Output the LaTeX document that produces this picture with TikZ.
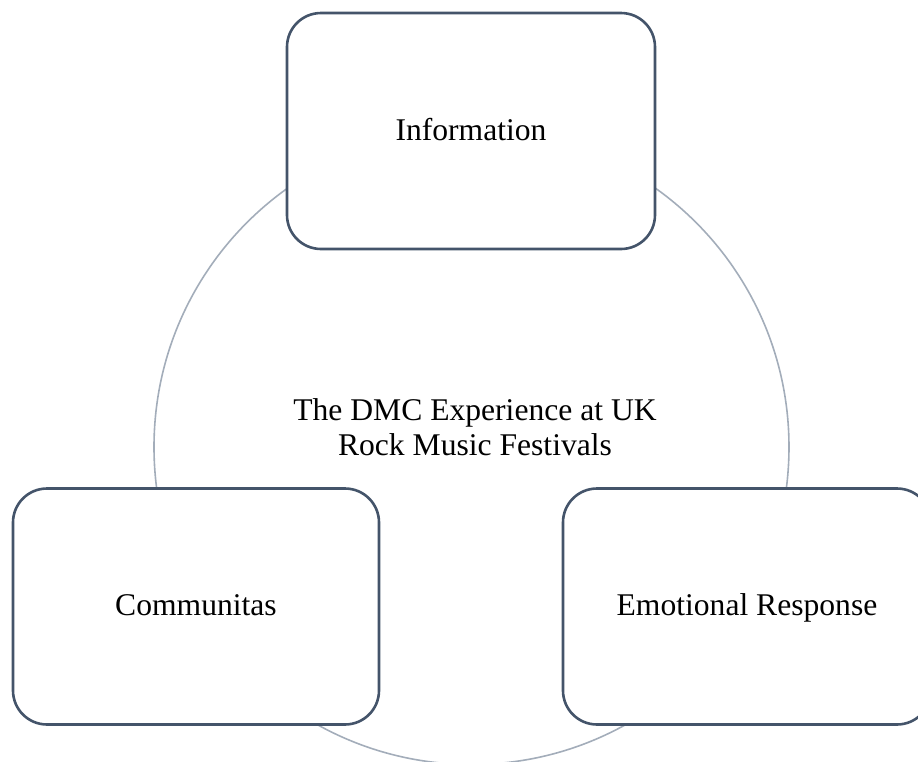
\documentclass[tikz,border=0pt]{standalone}
\usepackage{fontspec}
\setmainfont{Liberation Serif}
\definecolor{boxline}{HTML}{44546A}
\definecolor{ringline}{HTML}{A3ADBA}
\begin{document}
\begin{tikzpicture}[x=0.5pt,y=-0.5pt,
  topic/.style={draw=boxline, line width=1.3pt, rounded corners=17pt, fill=white,
    minimum width=184pt, minimum height=118pt, inner sep=0pt,
    text height=11pt, text depth=2pt,
    font=\fontsize{15.8}{19}\selectfont, align=center},
  ring/.style={draw=ringline, line width=0.8pt}]
\useasboundingbox (0,0) rectangle (918,762);
\begin{scope}
\clip (0,0) rectangle (918,762);
\draw[ring] (471.5,447) circle[radius=158.75pt];
\node[topic] (info) at (471,131) {Information};
\node[topic, minimum width=183pt] (comm) at (196,606.5) {Communitas};
\node[topic] (emo) at (747,606.5) {Emotional Response};
\node[font=\fontsize{15.8}{17.5}\selectfont, align=center] (core) at (475,427)
  {The DMC Experience at UK\\Rock Music Festivals};
\end{scope}
\end{tikzpicture}
\end{document}
